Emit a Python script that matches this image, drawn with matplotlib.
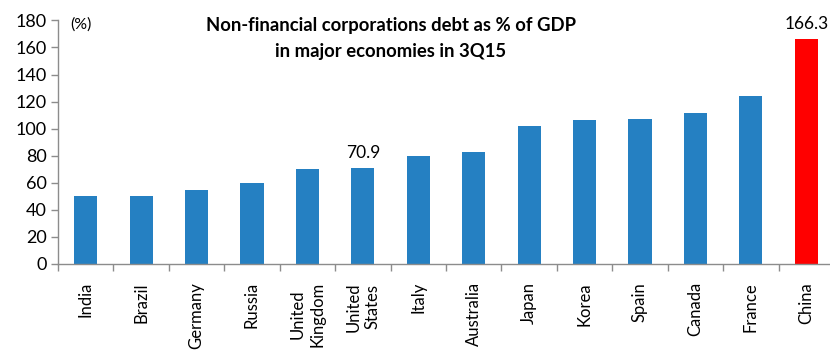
import matplotlib
matplotlib.use("Agg")
import matplotlib.pyplot as plt

countries = ["India", "Brazil", "Germany", "Russia", "United\nKingdom", "United\nStates",
             "Italy", "Australia", "Japan", "Korea", "Spain", "Canada", "France", "China"]
debt_pct = [50.4, 50.2, 54.8, 60.2, 70.3, 70.9, 80.0, 83.0, 101.8, 106.1, 107.5, 111.9, 124.5, 166.3]
bar_colors = ["#2580C2"] * 13 + ["#FF0000"]
yticks = [0, 20, 40, 60, 80, 100, 120, 140, 160, 180]
labelled = {"United\nStates": "70.9", "China": "166.3"}

plt.rcParams['font.family'] = ['Lato', 'DejaVu Sans']

W, H = 830, 350
fig = plt.figure(figsize=(W / 100, H / 100), dpi=100)
ax = fig.add_axes([58 / W, (H - 264) / H, (834 - 58) / W, 243.6 / H])

x = list(range(len(countries)))
ax.bar(x, debt_pct, width=0.42, color=bar_colors, zorder=2)
ax.set_xlim(-0.5, len(countries) - 0.5)
ax.set_ylim(0, 180)
ax.set_yticks(yticks)
ax.set_yticklabels([str(v) for v in yticks], fontsize=13)

ax.set_xticks(x)
ax.set_xticklabels(countries, rotation=90, fontsize=12, va='top', linespacing=1.25)
ax.tick_params(axis='x', length=0, pad=13)
# category boundary ticks
ax.set_xticks([i - 0.5 for i in range(len(countries) + 1)], minor=True)
ax.tick_params(axis='x', which='minor', length=5, color='#8c8c8c', width=1)
ax.tick_params(axis='y', length=5, color='#8c8c8c', width=1, pad=3)

for s in ['top', 'right']:
    ax.spines[s].set_visible(False)
for s in ['left', 'bottom']:
    ax.spines[s].set_color('#8c8c8c')
    ax.spines[s].set_linewidth(1)

for i, c in enumerate(countries):
    if c in labelled:
        ax.annotate(labelled[c], (i, debt_pct[i]), xytext=(0, 5), textcoords='offset points',
                    ha='center', va='bottom', fontsize=12.5)

fig.text(70 / W, 1 - 25 / H, "(%)", fontsize=11.5, va='center', ha='left')
fig.text(391 / W, 1 - 26 / H, "Non-financial corporations debt as % of GDP",
         fontsize=13.3, fontweight='bold', ha='center', va='center')
fig.text(391 / W, 1 - 51 / H, "in major economies in 3Q15",
         fontsize=13.3, fontweight='bold', ha='center', va='center')

fig.savefig("out.png", dpi=100)
